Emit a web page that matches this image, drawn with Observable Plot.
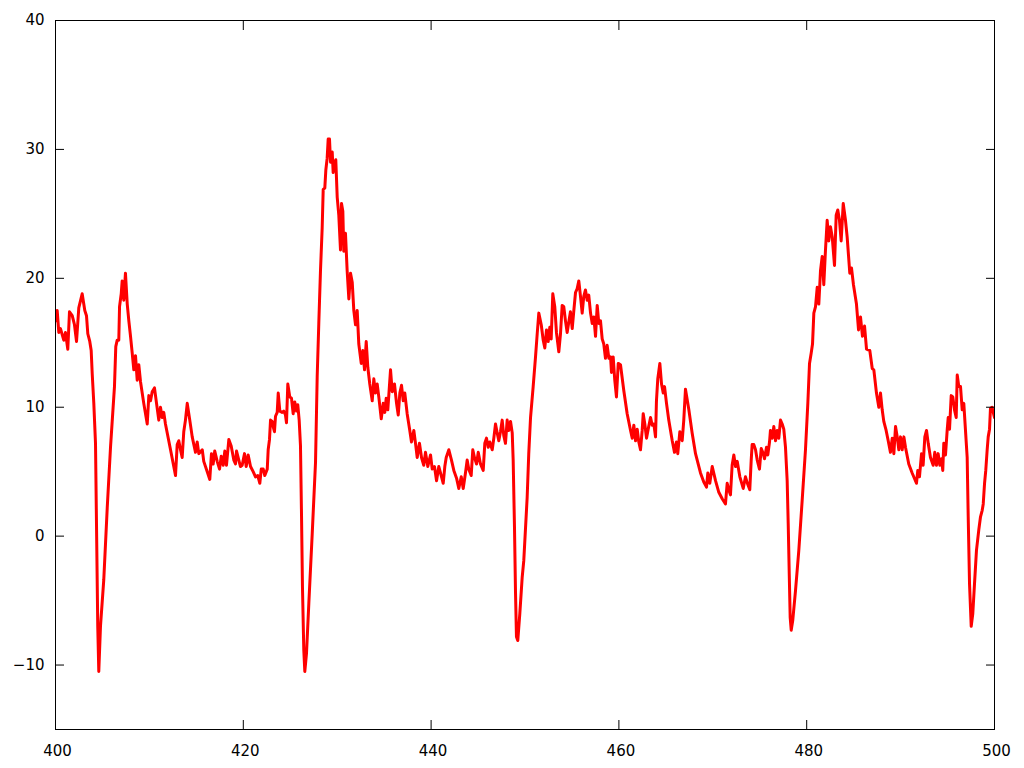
<!DOCTYPE html>
<html>
<head>
<meta charset="utf-8">
<script src="https://cdn.jsdelivr.net/npm/d3@7"></script>
<script src="https://cdn.jsdelivr.net/npm/@observablehq/plot@0.6"></script>
<style>
  html, body { margin: 0; padding: 0; background: white; }
  #chart { width: 1024px; height: 768px; }
</style>
</head>
<body>
<div id="chart"></div>
<script>
const time = [
400.00,400.18,400.35,400.53,400.88,401.06,401.31,401.49,401.78,402.02,402.24,402.48,402.84,403.12,403.30,403.44,403.65,403.80,403.91,404.08,
404.26,404.37,404.50,404.61,404.79,405.14,405.51,405.86,406.28,406.42,406.57,406.74,406.82,407.00,407.10,407.27,407.45,407.64,407.81,407.99,
408.17,408.34,408.52,408.70,408.87,409.05,409.40,409.77,409.94,410.12,410.30,410.54,410.76,411.00,411.18,411.36,411.53,411.71,412.25,412.78,
412.96,413.13,413.31,413.49,413.66,413.84,414.03,414.30,414.56,414.91,415.09,415.26,415.63,415.79,416.16,416.43,
416.61,416.79,416.96,417.22,417.47,417.65,417.86,418.03,418.21,418.46,418.71,418.99,419.17,419.28,419.52,419.70,419.88,420.13,420.31,420.52,
420.77,421.05,421.30,421.54,421.76,421.91,422.12,422.29,422.55,422.65,422.79,422.90,423.08,423.18,423.32,423.43,423.61,423.72,423.89,424.14,
424.31,424.49,424.60,424.74,424.95,425.13,425.31,425.48,425.67,425.80,425.95,426.09,426.20,426.30,426.44,426.55,426.73,426.98,427.34,427.69,
427.87,428.04,428.22,428.40,428.51,428.68,428.79,428.93,429.04,429.18,429.29,429.47,429.57,429.71,429.85,430.00,430.17,430.35,430.46,430.60,
430.70,430.88,431.06,431.24,
431.42,431.60,431.77,431.95,432.13,432.30,432.56,432.73,432.91,433.09,433.26,433.47,433.73,433.90,434.08,434.26,434.43,434.69,434.90,435.07,
435.22,435.39,435.68,435.86,436.10,436.32,436.50,436.67,436.85,437.03,437.20,437.45,437.73,437.91,438.16,438.34,438.52,438.76,438.98,439.22,
439.40,439.65,439.94,440.12,440.36,440.58,440.82,441.00,441.29,441.46,441.61,441.89,442.17,442.42,442.71,442.95,443.21,443.42,443.66,443.84,
444.01,444.27,444.44,444.62,444.84,445.02,445.26,445.55,445.72,445.90,446.08,446.25,446.51,446.68,446.86,447.04,447.21,447.39,447.57,447.74,
447.92,448.10,448.27,448.46,448.64,448.74,448.88,448.99,449.09,449.23,449.45,449.70,
449.87,450.23,450.40,450.59,450.87,451.12,451.30,451.47,451.73,451.94,452.11,452.29,452.47,452.64,452.79,452.96,453.17,453.35,453.60,453.78,
453.96,454.13,454.31,454.49,454.66,454.84,455.03,455.20,455.38,455.56,455.73,455.91,456.09,456.26,456.44,456.62,456.79,456.98,457.16,457.33,
457.51,457.69,457.86,458.04,458.22,458.39,458.57,458.75,458.93,459.11,459.21,459.39,459.56,459.74,459.93,460.17,460.52,460.88,461.24,461.42,
461.59,461.77,461.95,462.12,462.30,462.48,462.59,462.76,462.94,463.12,463.37,463.55,463.72,463.90,464.00,464.14,464.36,464.54,464.72,464.86,
465.07,465.31,465.68,465.92,466.13,466.27,466.49,466.74,466.91,467.09,467.45,467.80,468.16,
468.69,469.04,469.33,469.47,469.68,469.94,470.29,470.64,471.00,471.35,471.53,471.70,471.88,472.06,472.24,472.42,472.60,472.88,473.24,473.48,
473.73,473.94,474.09,474.19,474.37,474.55,474.73,474.97,475.16,475.37,475.51,475.72,475.86,476.04,476.14,476.33,476.50,476.68,476.86,477.03,
477.21,477.39,477.56,477.74,477.92,478.03,478.14,478.24,478.35,478.52,478.81,479.16,479.52,479.87,480.12,480.30,480.48,480.62,480.76,480.94,
481.12,481.29,481.47,481.65,481.82,482.00,482.18,482.35,482.53,482.72,482.96,483.14,483.31,483.49,483.67,483.89,484.13,484.31,484.59,
484.77,484.98,485.30,485.52,485.73,485.94,486.16,486.37,
486.72,486.98,487.15,487.43,487.68,487.86,488.04,488.21,488.46,488.68,488.92,489.11,489.28,489.46,489.64,489.81,489.99,490.17,490.35,490.52,
490.87,491.23,491.69,491.83,492.01,492.12,492.23,492.40,492.58,492.76,492.94,493.18,493.47,493.64,493.82,494.00,494.18,494.36,494.49,494.60,
494.78,494.96,495.07,495.21,495.39,495.56,495.74,495.92,496.03,496.20,496.38,496.56,496.73,496.91,497.09,497.20,497.34,497.52,497.69,497.87,
498.08,498.33,498.51,498.69,498.80,498.94,499.07,499.22,499.33,499.47,499.57,499.75,499.93,500.00
];
const value = [
16.7,17.5,15.8,16.1,15.2,15.8,14.5,17.4,17.1,16.4,15.1,17.7,18.8,17.5,17.1,15.7,15.1,14.4,12.6,10.3,
7.2,0.7,-7.0,-10.5,-7.0,-3.4,2.2,6.9,11.6,14.7,15.2,15.2,17.8,18.8,19.8,18.3,20.4,18.0,16.7,15.5,
14.2,12.9,14.0,12.1,13.3,12.0,10.3,8.7,10.9,10.5,11.2,11.5,10.3,9.0,10.0,9.2,9.6,8.7,6.7,4.7,
7.1,7.4,6.7,6.1,8.1,9.0,10.3,9.0,7.7,6.5,7.3,6.4,6.7,5.8,5.0,4.4,
6.4,5.6,6.6,5.8,5.2,6.2,5.5,6.6,5.5,7.5,7.0,5.9,5.6,6.6,5.9,5.4,5.5,6.4,5.4,6.3,
5.4,5.0,4.6,4.7,4.1,5.2,5.2,4.7,5.2,6.7,7.5,9.0,8.9,8.5,8.1,9.3,9.6,11.1,9.7,9.6,
9.7,9.4,8.8,11.8,10.8,10.7,9.5,10.4,9.7,10.2,9.0,7.0,1.6,-3.9,-8.8,-10.5,-9.1,-5.2,0.2,5.7,
12.4,16.5,20.6,23.9,26.9,27.0,28.4,29.3,30.8,30.8,29.0,29.8,28.2,28.9,29.2,26.3,24.9,22.2,25.8,25.2,
22.1,23.5,20.6,18.4,
20.4,19.7,17.5,16.4,17.5,14.9,13.4,14.4,12.9,15.1,13.1,11.8,10.5,12.2,11.1,11.8,10.8,9.1,10.3,9.6,
10.7,9.8,12.9,11.2,11.8,10.3,9.4,11.1,11.7,10.5,11.1,9.5,8.2,7.3,8.2,7.2,6.1,7.2,6.1,5.5,
6.5,5.4,6.3,5.2,5.4,4.3,5.4,4.9,4.1,5.4,6.1,6.7,5.9,5.1,4.5,3.7,4.6,3.7,4.9,5.9,
5.2,4.7,6.7,6.1,5.6,6.5,5.6,5.1,7.2,7.6,6.9,7.3,6.7,7.6,8.7,8.0,7.4,8.1,9.0,7.8,
7.2,9.0,8.2,8.9,8.0,5.9,0.7,-4.4,-7.8,-8.1,-6.0,-3.2,
-1.9,3.0,6.4,9.2,11.6,13.9,15.7,17.3,16.4,15.2,14.6,16.0,15.1,16.2,15.3,18.8,17.8,15.8,14.3,15.7,
17.9,17.8,16.7,15.8,16.6,17.4,16.1,17.5,18.9,19.2,19.8,18.6,17.3,18.6,19.1,18.3,18.7,17.3,16.5,17.0,
15.5,17.9,16.5,16.7,15.3,14.9,13.8,14.8,13.8,13.9,12.7,13.9,12.1,10.8,13.4,13.3,11.3,9.5,8.2,7.6,
8.6,7.4,8.3,7.3,6.7,8.2,9.5,8.7,7.6,8.3,9.2,8.6,8.7,7.7,10.5,12.2,13.4,11.8,11.1,11.6,
10.3,9.0,7.4,6.5,7.3,6.4,8.1,7.4,9.0,11.4,9.8,8.0,6.4,
4.9,4.2,3.8,4.9,4.1,5.4,4.3,3.4,2.9,2.5,4.1,3.6,3.2,5.5,6.3,5.4,5.8,4.6,3.7,4.6,
4.0,3.6,5.9,7.1,7.1,6.7,5.9,5.2,6.8,6.4,6.0,6.9,6.3,7.3,8.2,7.6,8.5,7.4,8.2,7.6,
9.0,8.7,8.3,6.9,4.3,1.0,-2.9,-6.3,-7.3,-6.5,-4.2,-1.1,2.8,6.7,10.3,13.4,14.2,14.9,17.3,17.8,
19.3,18.0,20.6,21.7,19.5,22.2,24.5,22.9,24.0,23.2,21.0,24.9,25.3,24.5,22.9,25.8,24.5,23.2,20.4,
20.8,19.5,18.0,16.0,17.0,15.5,16.3,14.5,
14.4,13.0,12.9,11.1,10.0,11.1,9.8,8.9,8.2,7.4,6.5,7.6,6.4,8.5,7.7,6.7,7.7,6.7,7.7,6.9,
5.6,4.9,4.1,5.1,4.6,5.5,6.4,5.5,7.7,8.2,7.2,6.1,5.5,6.5,5.5,6.4,5.5,6.0,5.1,7.2,
6.3,8.2,9.2,8.3,10.9,10.8,9.8,9.2,12.5,11.6,11.6,9.8,10.3,8.2,6.1,1.5,-3.7,-7.0,-6.0,-3.7,
-1.1,0.5,1.5,2.0,2.5,4.1,5.1,6.7,7.7,8.3,9.9,10.0,9.4,9.2
];
const xTicks = [400, 420, 440, 460, 480, 500];
const yTicks = [-10, 0, 10, 20, 30, 40];

const data = time.map((t, i) => ({t, v: value[i]}));

const chart = Plot.plot({
  width: 1024,
  height: 768,
  marginLeft: 55,
  marginRight: 30,
  marginTop: 20,
  marginBottom: 39,
  x: {domain: [400, 500]},
  y: {domain: [-15, 40]},
  style: {fontFamily: "DejaVu Sans", fontSize: "15px", background: "white", color: "black"},
  marks: [
    Plot.line(data, {x: "t", y: "v", stroke: "#ff0000", strokeWidth: 3, strokeLinejoin: "round", clip: true}),
    Plot.frame({stroke: "black", strokeWidth: 1}),
    Plot.axisX(xTicks, {anchor: "bottom", tickSize: -9, tickFormat: () => "", label: null}),
    Plot.axisX(xTicks, {anchor: "bottom", tickSize: 0, tickPadding: 16, dx: 2, label: null}),
    Plot.axisX(xTicks, {anchor: "top", tickSize: -9, tickFormat: () => "", label: null}),
    Plot.axisY(yTicks, {anchor: "left", tickSize: -9, tickPadding: 20, label: null}),
    Plot.axisY(yTicks, {anchor: "right", tickSize: -9, tickFormat: () => "", label: null})
  ]
});
document.getElementById("chart").appendChild(chart);
</script>
</body>
</html>
